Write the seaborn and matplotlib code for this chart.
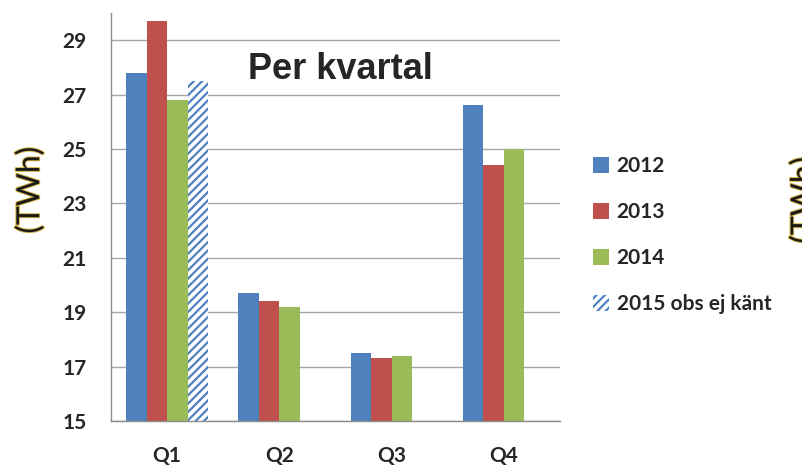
import pandas as pd
import seaborn as sns
import matplotlib.pyplot as plt
from matplotlib.patches import Patch
import matplotlib.patheffects as pe

quarters = ["Q1", "Q2", "Q3", "Q4"]
years = ["2012", "2013", "2014", "2015 obs ej känt"]
v2012 = [27.8, 19.7, 17.5, 26.6]
v2013 = [29.7, 19.4, 17.3, 24.4]
v2014 = [26.8, 19.2, 17.4, 25.0]
v2015 = [27.5, None, None, None]

colors = ["#4F81BD", "#C0504D", "#9BBB59", "#FFFFFF"]
blue = "#4F81BD"

rows = []
for yr, vals in zip(years, [v2012, v2013, v2014, v2015]):
    for q, v in zip(quarters, vals):
        rows.append({"quarter": q, "year": yr, "twh": v})
df = pd.DataFrame(rows)

sns.set_style("white")
plt.rcParams["font.family"] = ["Lato", "DejaVu Sans"]
plt.rcParams["hatch.linewidth"] = 1.6

fig = plt.figure(figsize=(8.02, 4.66), dpi=100)
ax = fig.add_axes([111 / 802, 1 - 421 / 466, (560 - 111) / 802, (421 - 13) / 466])

sns.barplot(data=df, x="quarter", y="twh", hue="year", order=quarters,
            hue_order=years, palette=colors, saturation=1, width=0.73,
            linewidth=0, legend=False, ax=ax)

# 2015 bar hatched
for p in ax.containers[3].patches:
    p.set_hatch("////")
    p.set_edgecolor(blue)
    p.set_linewidth(0)

ax.set_ylim(15, 30)
ax.set_xlim(-0.5, 3.5)
ax.set_yticks(range(15, 30, 2))
ax.yaxis.grid(True, color="#a6a6a6", lw=1)
ax.set_axisbelow(True)
for s in ["top", "right"]:
    ax.spines[s].set_visible(False)
for s in ["left", "bottom"]:
    ax.spines[s].set_color("#8c8c8c")
    ax.spines[s].set_linewidth(1)

ax.set_xticks([-0.5, 0.5, 1.5, 2.5, 3.5], minor=True)
ax.tick_params(axis="x", which="minor", length=7, color="#8c8c8c", width=1, direction="out")
ax.tick_params(axis="x", which="major", length=0, pad=18, labelsize=15)
ax.tick_params(axis="y", length=6.5, color="#8c8c8c", width=1, direction="out", pad=11, labelsize=15)
for lab in ax.get_xticklabels() + ax.get_yticklabels():
    lab.set_fontweight("bold")
ax.set_xlabel("")
ax.set_ylabel("")

ax.text(0.51, 0.838, "Per kvartal", transform=ax.transAxes, ha="center", va="baseline",
        fontsize=26, fontweight="bold", family="Liberation Sans")

stroke = [pe.withStroke(linewidth=1.4, foreground="#d8b84a")]
fig.text(30 / 802, 1 - 190 / 466, "(TWh)", rotation=90, ha="center", va="center",
         fontsize=23, color="#1a1a1a", path_effects=stroke)
fig.text(789 / 802, 1 - 200 / 466, "(TWh)", rotation=90, ha="left", va="center",
         fontsize=23, color="#1a1a1a", path_effects=stroke)

handles = [Patch(facecolor=colors[i], edgecolor="none") for i in range(3)]
handles.append(Patch(facecolor="white", edgecolor=blue, hatch="////", linewidth=0))
leg = fig.legend(handles, years, loc="center left", bbox_to_anchor=(574 / 802, 1 - 235 / 466),
                 frameon=False, handlelength=0.8, handleheight=0.8, handletextpad=0.35,
                 labelspacing=1.25, prop={"weight": "bold", "size": 15})

fig.savefig("out.png", dpi=100)
